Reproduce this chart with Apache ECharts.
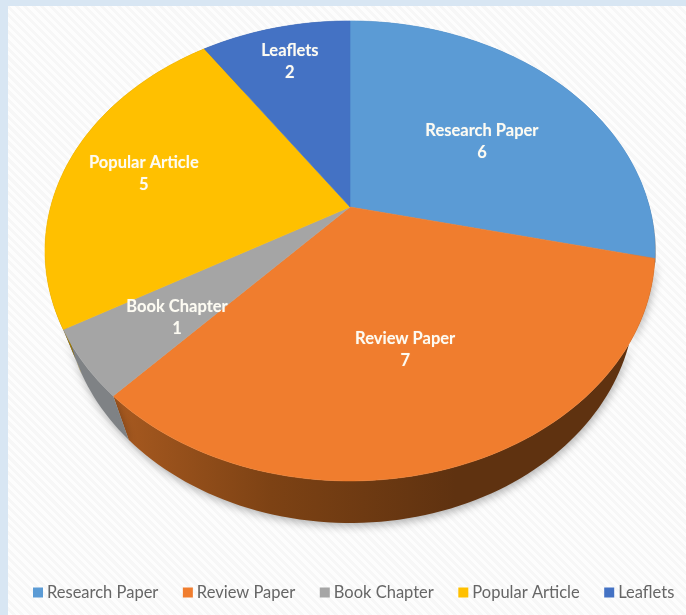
<!DOCTYPE html>
<html><head><meta charset="utf-8">
<style>
html,body{margin:0;padding:0;width:686px;height:615px;overflow:hidden;background:#d8e6f3}
#panel{position:absolute;left:8px;top:6px;right:0;bottom:0;background:repeating-linear-gradient(45deg,#fdfdfd 0,#fdfdfd 3px,#f7f7f7 3px,#f7f7f7 6px)}
#chart{position:absolute;left:0;top:0;width:686px;height:615px}
</style>
<script src="https://cdn.jsdelivr.net/npm/echarts@6/dist/echarts.min.js"></script>
</head><body><div id="panel"></div><div id="chart"></div>
<script>
const categories = ['Research Paper','Review Paper','Book Chapter','Popular Article','Leaflets'];
const counts = [6,7,1,5,2];
const topColors = ['#5b9bd5','#f07d2e','#a5a5a5','#ffc000','#4472c4'];
const wallStops = [
  [['#3b6e9e',0],['#3b6e9e',1]],
  [['#a85a20',0],['#7d4214',0.3],['#5f3210',0.65],['#5f3210',1]],
  [['#7f8285',0],['#676b6f',1]],
  [['#a07a00',0],['#a07a00',1]],
  [['#2c4a80',0],['#2c4a80',1]]
];
const wallShadow = [0,8,8,0,0];
const labelRadius = [0.564,0.594,0.696,0.728,0.788];
const labelTurn = [4.5,1.1,-2.1,0,0.2];

// Perspective projection of the unit disc onto the page
const persp = 0.191;
const topFace = {cx:350, cy:207, a:299.4, b:221.6};
const baseFace = {cx:350, cy:255, a:279.8, b:216.8};
function project(f, angDeg, r){
  const t = angDeg*Math.PI/180, u = r*Math.sin(t), v = -r*Math.cos(t), w = 1-persp*v;
  return [f.cx+f.a*u/w, f.cy+f.b*v/w];
}
const total = counts.reduce((s,v)=>s+v,0);
function startOf(i){ return counts.slice(0,i).reduce((s,v)=>s+v,0)/total*360; }
function arc(f,from,to){
  const n = Math.max(2,Math.ceil((to-from)/1.5)), pts=[];
  for(let j=0;j<=n;j++) pts.push(project(f,from+(to-from)*j/n,1));
  return pts;
}
function renderSlice(i){
  return function(params,api){
    const value = api.value(0), from = startOf(i), to = from+value/total*360, mid=(from+to)/2;
    const rim = arc(topFace,from,to), base = arc(baseFace,from,to);
    const lab = project(topFace,mid+labelTurn[i],labelRadius[i]);
    const stops = wallStops[i].map(s=>({color:s[0],offset:s[1]}));
    return {type:'group',children:[
      {type:'polygon',z2:1,shape:{points:rim.concat(base.slice().reverse())},
       style:{fill:{type:'linear',x:113,y:0,x2:640,y2:0,global:true,colorStops:stops},
              shadowColor:'rgba(0,0,0,0.3)',shadowBlur:wallShadow[i],shadowOffsetX:1,shadowOffsetY:3}},
      {type:'polygon',z2:2,shape:{points:[project(topFace,0,0)].concat(rim)},
       style:{fill:topColors[i],stroke:topColors[i],lineWidth:0.6}},
      {type:'text',z2:3,x:lab[0],y:lab[1]+1,
       style:{text:categories[i]+'\n'+value,fill:'#fdfbf2',align:'center',verticalAlign:'middle',
              font:'bold 16.5px Lato',lineHeight:22,textShadowColor:'rgba(255,255,255,0.35)',textShadowBlur:1}}
    ]};
  };
}
const chart = echarts.init(document.getElementById('chart'),null,{renderer:'canvas'});
chart.setOption({
  animation:false,
  backgroundColor:'transparent',
  legend:{left:33,top:584,itemWidth:10,itemHeight:10,itemGap:24.5,icon:'rect',selectedMode:false,padding:0,
    data:categories,textStyle:{color:'#666666',fontFamily:'Lato',fontSize:16.5,padding:[0,0,0,-1]}},
  series:categories.map((name,i)=>({
    type:'custom',name,coordinateSystem:'none',silent:true,
    itemStyle:{color:topColors[i]},
    renderItem:renderSlice(i),data:[[counts[i]]]
  }))
});
</script></body></html>
